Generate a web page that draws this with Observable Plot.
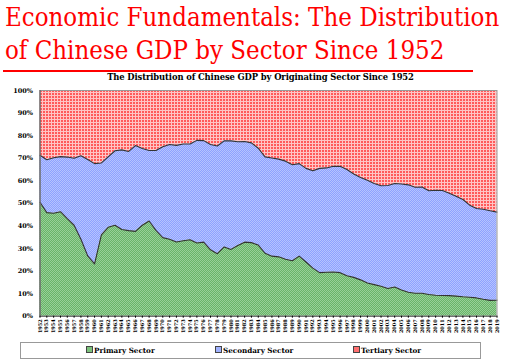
<!DOCTYPE html>
<html><head><meta charset="utf-8">
<script src="https://cdn.jsdelivr.net/npm/d3@7"></script>
<script src="https://cdn.jsdelivr.net/npm/@observablehq/plot@0.6"></script>
<style>
body{margin:0;width:521px;height:360px;position:relative;background:#fff;overflow:hidden;font-family:"DejaVu Serif",serif}
#title{position:absolute;left:5px;top:1px;color:#f00;font-size:26px;line-height:33px;white-space:nowrap;transform-origin:0 0;transform:scaleX(0.885)}
#rule{position:absolute;left:3px;top:70px;width:470px;height:2px;background:#f00}
#sub{position:absolute;left:0;width:521px;top:72px;text-align:center;font-weight:bold;font-size:8.4px;line-height:10px;letter-spacing:-0.1px}
#chart{position:absolute;left:0;top:80px}
#legend{position:absolute;left:20px;top:342px;width:459px;height:15px;border:1px solid #999;font-size:7.2px;font-weight:bold}
.li{position:absolute;top:3px;white-space:nowrap;line-height:9px}
.sw{display:inline-block;width:5px;height:5px;border:1px solid #444;margin-right:1px;vertical-align:0px}
</style></head>
<body>
<svg width="0" height="0" style="position:absolute">
  <defs>
    <pattern id="pr" patternUnits="userSpaceOnUse" width="3" height="3">
      <rect width="3" height="3" fill="#ff5a5a"/>
      <rect width="3" height="1" fill="#ffc4c4"/>
      <rect width="1" height="3" fill="#ffc4c4"/>
    </pattern>
    <pattern id="pb" patternUnits="userSpaceOnUse" width="2" height="2">
      <rect width="2" height="2" fill="#8ea2ff"/>
      <rect width="1" height="1" fill="#b6c3ff"/>
      <rect x="1" y="1" width="1" height="1" fill="#b6c3ff"/>
    </pattern>
    <pattern id="pg" patternUnits="userSpaceOnUse" width="2" height="2">
      <rect width="2" height="2" fill="#68b468"/>
      <rect width="1" height="1" fill="#98d098"/>
      <rect x="1" y="1" width="1" height="1" fill="#98d098"/>
    </pattern>
  </defs>
</svg>
<div id="title">Economic Fundamentals: The Distribution<br>of Chinese GDP by Sector Since 1952</div>
<div id="rule"></div>
<div id="sub">The Distribution of Chinese GDP by Originating Sector Since 1952</div>
<div id="chart"></div>
<div id="legend">
  <span class="li" style="left:65px"><span class="sw" style="background:#7cc27c"></span>Primary Sector</span>
  <span class="li" style="left:194px"><span class="sw" style="background:#a0b2ff"></span>Secondary Sector</span>
  <span class="li" style="left:332px"><span class="sw" style="background:#ff7070"></span>Tertiary Sector</span>
</div>
<script>
const years = [1952,1953,1954,1955,1956,1957,1958,1959,1960,1961,1962,1963,1964,1965,1966,1967,1968,1969,1970,1971,1972,1973,1974,1975,1976,1977,1978,1979,1980,1981,1982,1983,1984,1985,1986,1987,1988,1989,1990,1991,1992,1993,1994,1995,1996,1997,1998,1999,2000,2001,2002,2003,2004,2005,2006,2007,2008,2009,2010,2011,2012,2013,2014,2015,2016,2017,2018,2019];
const primary = [50.5,45.9,45.6,46.3,43.2,40.3,34.1,26.7,23.2,36.0,39.4,40.3,38.4,37.9,37.6,40.3,42.2,38.0,34.8,34.1,32.9,33.4,33.9,32.4,32.8,29.4,27.7,30.7,29.6,31.3,32.8,32.6,31.5,27.9,26.6,26.3,25.2,24.6,26.6,24.0,21.3,19.3,19.5,19.6,19.3,17.9,17.2,16.1,14.7,14.0,13.3,12.3,12.9,11.6,10.6,10.2,10.2,9.6,9.3,9.2,9.1,8.9,8.6,8.4,8.1,7.5,7.0,7.1];
const secondary = [20.8,23.4,24.6,24.4,27.3,29.7,37.0,42.7,44.4,31.9,31.2,33.0,35.3,35.1,38.0,34.0,31.2,35.4,40.3,42.0,42.8,42.9,42.4,45.5,45.0,46.7,47.7,47.0,48.1,46.0,44.6,44.2,42.9,42.7,43.5,43.3,43.5,42.5,41.0,41.5,43.1,46.2,46.2,46.8,47.1,47.1,45.8,45.4,45.5,44.8,44.5,45.6,45.9,47.0,47.6,46.9,47.0,46.0,46.5,46.5,45.4,44.2,43.1,40.8,39.6,39.9,39.7,39.0];
const tertiary = [28.7,30.7,29.8,29.3,29.5,30.0,28.9,30.6,32.4,32.1,29.4,26.7,26.3,27.0,24.4,25.7,26.6,26.6,24.9,23.9,24.3,23.7,23.7,22.1,22.2,23.9,24.6,22.3,22.3,22.7,22.6,23.2,25.6,29.4,29.9,30.4,31.3,32.9,32.4,34.5,35.6,34.5,34.3,33.6,33.6,35.0,37.0,38.5,39.8,41.2,42.2,42.1,41.2,41.4,41.8,42.9,42.8,44.4,44.2,44.3,45.5,46.9,48.3,50.8,52.3,52.6,53.3,53.9];
const yTicks = [0,10,20,30,40,50,60,70,80,90,100];

const data = years.map((year, i) => ({
  year,
  p: primary[i],
  ps: primary[i] + secondary[i],
  pst: primary[i] + secondary[i] + tertiary[i]
}));

const chart = Plot.plot({
  width: 521, height: 260,
  marginTop: 10, marginLeft: 39.5, marginRight: 24.5, marginBottom: 24.3,
  style: {fontFamily: "'DejaVu Serif', serif", fontWeight: "bold", background: "transparent"},
  x: {domain: [1952, 2019], axis: null},
  y: {domain: [0, 100], axis: null},
  marks: [
    Plot.areaY(data, {x: "year", y1: 0, y2: "p", fill: "url(#pg)"}),
    Plot.areaY(data, {x: "year", y1: "p", y2: "ps", fill: "url(#pb)"}),
    Plot.areaY(data, {x: "year", y1: "ps", y2: "pst", fill: "url(#pr)"}),
    Plot.line(data, {x: "year", y: "p", stroke: "#333", strokeWidth: 1.1}),
    Plot.line(data, {x: "year", y: "ps", stroke: "#333", strokeWidth: 1.1}),
    Plot.frame({stroke: "#999"}),
    Plot.ruleX([1952], {stroke: "#555"}),
    Plot.ruleY([0], {stroke: "#555"}),
    Plot.axisY({ticks: yTicks, tickFormat: d => d + "%", tickSize: 0, tickPadding: 7, fontSize: 6.5, label: null}),
    Plot.axisX({ticks: years, tickFormat: d => String(d), tickRotate: -90, tickSize: 2, tickPadding: 1, fontSize: 5, label: null})
  ]
});
document.getElementById("chart").appendChild(chart);
</script>
</body></html>
